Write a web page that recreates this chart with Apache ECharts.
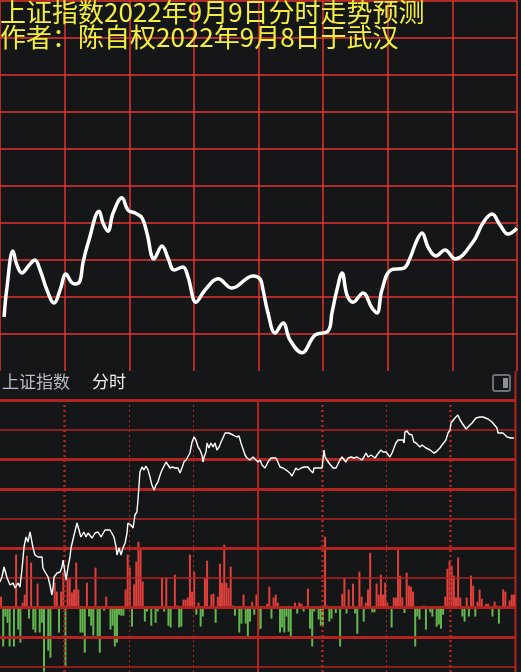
<!DOCTYPE html>
<html>
<head>
<meta charset="utf-8">
<script src="https://cdn.jsdelivr.net/npm/echarts@6/dist/echarts.min.js"></script>
<style>
html,body{margin:0;padding:0;background:#151618;}
#chart{width:521px;height:672px;}
</style>
</head>
<body>
<div id="chart"></div>
<script>
// ---- Upper panel: forecast line (minute of trading day, index level) ----
const upperMinutes = [1.9,3.2,6.0,7.9,10.2,13.5,16.2,18.6,21.8,25.1,27.9,30.6,33.0,34.8,37.1,38.5,41.3,46.0,47.8,50.1,52.5,56.6,59.4,62.7,65.9,68.2,71.5,75.2,78.0,80.8,84.9,87.3,91.0,95.2,101.2,107.7,117.4,120.7,122.1,124.4,127.7,131.4,134.6,140.2,146.2,152.3,154.1,156.4,158.8,161.1,163.9,168.5,172.7,175.0,177.3,181.5,187.5,190.3,193.6,195.9,198.7,202.4,206.6,211.2,219.6,224.2,228.4,232.1,235.8,240.0];
const upperLevels  = [3194.6,3202.4,3212.4,3208.6,3206.5,3208.6,3210.0,3207.3,3201.9,3198.4,3201.9,3206.2,3204.1,3203.5,3204.3,3209.2,3215.4,3223.2,3220.0,3217.8,3222.7,3226.8,3223.5,3222.7,3221.4,3217.3,3210.3,3213.8,3210.5,3207.3,3208.1,3205.4,3198.6,3201.9,3204.9,3202.4,3205.7,3204.9,3201.9,3195.7,3190.3,3193.0,3188.4,3184.9,3189.7,3190.8,3195.7,3201.9,3206.5,3200.5,3198.6,3201.1,3197.0,3195.7,3201.9,3207.3,3207.8,3210.5,3215.4,3217.3,3213.5,3211.1,3212.7,3210.3,3214.9,3220.0,3222.4,3219.5,3217.0,3218.6];

// ---- Lower panel: intraday price (minute, index) ----
const priceMinutes = [0,0.9,1.9,3.3,4.7,6.1,7.0,8.4,9.3,10.3,11.2,12.1,13.0,14.0,14.9,15.4,16.3,17.7,18.6,19.6,20.0,21.0,21.9,22.4,23.3,24.2,24.7,25.2,26.6,28.0,28.9,29.4,30.3,30.8,31.7,32.6,33.1,34.5,35.9,36.8,37.7,39.1,40.1,41.0,42.9,44.3,45.7,47.1,48.9,51.3,52.2,53.1,54.1,54.5,55.5,56.4,57.3,58.3,59.2,59.6,61.0,62.0,62.9,63.8,64.3,64.8,65.2,66.2,67.1,68.0,69.0,69.9,70.8,71.8,72.7,73.6,74.6,75.5,76.4,77.4,78.3,79.2,80.2,81.6,82.9,83.9,84.8,85.7,86.7,87.6,88.5,89.5,90.4,91.3,92.3,93.2,94.1,94.6,95.1,96.0,96.5,97.4,98.3,99.3,100.2,101.1,102.1,103.0,103.9,104.9,105.8,106.7,107.6,108.6,109.5,110.4,111.4,112.3,113.2,114.2,115.1,116.5,117.9,118.8,120.2,121.2,122.1,123.5,124.9,126.3,127.2,128.6,129.5,130.5,131.9,133.3,134.2,135.1,136.1,137.0,137.9,138.9,140.3,141.7,142.6,143.5,144.5,145.9,146.3,148.2,150.1,151.0,151.5,152.4,153.3,154.2,155.2,156.6,157.5,158.4,159.4,160.3,161.2,162.2,163.6,165.0,166.4,167.3,168.7,169.6,170.6,171.5,172.9,173.8,174.8,175.7,176.6,177.5,178.5,179.9,180.8,181.7,182.7,183.6,184.5,185.5,186.4,187.8,188.3,188.7,189.7,190.6,192.0,192.9,193.9,194.8,195.7,196.7,197.6,198.5,199.4,200.4,201.3,202.2,203.2,204.1,205.0,206.0,206.9,207.8,208.8,209.7,210.2,211.1,212.0,213.4,214.4,215.3,216.2,217.2,218.1,219.0,220.0,220.9,221.8,222.7,223.7,225.1,226.0,227.4,228.3,229.3,230.2,231.6,232.1,233.0,234.4,235.3,236.3,237.2,238.1,239.5];
const priceValues  = [3227.0,3228.0,3230.0,3227.8,3226.4,3226.8,3225.8,3226.8,3226.0,3229.8,3234.0,3236.0,3235.0,3237.0,3237.4,3233.8,3232.4,3232.0,3232.4,3232.0,3229.8,3229.0,3228.8,3228.0,3226.4,3224.4,3225.8,3228.0,3228.8,3229.0,3230.0,3231.4,3228.8,3227.4,3230.0,3232.0,3233.8,3236.4,3238.8,3238.4,3236.0,3237.0,3236.0,3236.8,3235.8,3236.8,3237.0,3236.0,3237.4,3237.4,3237.8,3236.0,3234.0,3232.4,3233.8,3232.4,3233.8,3234.8,3236.8,3238.8,3238.4,3237.8,3240.4,3241.0,3243.4,3246.4,3249.0,3250.0,3249.4,3250.2,3249.4,3248.0,3246.4,3245.4,3246.4,3247.0,3248.4,3249.4,3249.8,3251.0,3250.4,3249.8,3250.0,3249.8,3249.8,3248.8,3249.8,3251.0,3251.4,3251.4,3252.8,3255.0,3256.0,3255.4,3254.0,3253.4,3252.4,3251.0,3252.0,3253.0,3254.8,3253.8,3254.8,3254.0,3254.8,3253.4,3254.0,3255.0,3255.8,3256.8,3256.4,3256.8,3257.0,3256.4,3256.2,3256.0,3256.2,3254.8,3254.4,3252.4,3251.8,3251.4,3252.0,3251.8,3251.0,3251.4,3250.4,3249.8,3251.0,3251.8,3252.0,3251.8,3251.0,3250.0,3249.8,3249.4,3249.8,3248.8,3248.2,3248.0,3249.8,3249.4,3249.8,3250.0,3250.4,3250.0,3249.4,3248.8,3249.8,3249.8,3249.8,3253.4,3252.0,3251.4,3250.8,3250.4,3249.8,3249.8,3250.0,3251.4,3252.0,3251.8,3251.0,3251.8,3252.0,3251.8,3252.0,3251.8,3251.4,3252.0,3252.8,3252.0,3252.4,3252.0,3251.8,3252.4,3252.8,3253.4,3253.0,3253.0,3252.8,3252.0,3252.8,3253.8,3254.8,3255.4,3255.6,3255.4,3254.8,3257.0,3257.2,3256.6,3256.4,3255.0,3254.8,3254.8,3254.0,3254.4,3254.4,3253.8,3254.0,3253.4,3253.0,3252.8,3253.0,3253.4,3253.8,3254.4,3254.8,3255.4,3256.8,3257.4,3258.8,3259.0,3259.8,3260.4,3259.4,3258.8,3258.4,3257.6,3257.8,3258.4,3258.8,3259.0,3259.8,3260.0,3260.0,3260.0,3259.8,3259.6,3259.2,3259.0,3258.6,3257.8,3256.8,3256.6,3256.8,3256.4,3256.0,3255.6,3255.8,3255.8];

// ---- Lower panel: per-minute bars (positive = red, negative = green) ----
const barValues = [3.7,-13.1,-3.0,-5.1,-13.1,0,-13.1,17.9,-7.4,-11.8,1.7,4.4,17.5,-3.7,15.2,-7.4,-8.4,8.1,-8.4,-5.1,-21.6,0,-14.5,-16.9,0,8.4,5.4,-8.4,5.4,11.8,-19.9,10.1,10.1,5.1,6.1,15.2,6.1,-8.4,-8.4,-15.2,8.4,-3.0,-6.1,-9.4,13.5,-9.8,-15.2,0,-1.0,3.7,0,-7.4,-6.1,-13.1,-11.8,-2.4,-2.7,-2.7,6.1,17.9,13.5,-6.4,7.8,15.5,22.2,19.5,8.8,-4.7,-1.3,0,-6.1,0,-5.1,-1.3,0,10.1,-1.3,10.1,-6.1,-6.7,0,11.1,0.7,-6.7,-6.4,2.7,2.7,3.4,17.9,5.4,12.1,-2.4,1.7,-6.4,-3.0,10.1,15.8,0,4.4,4.7,-5.1,3.7,14.8,8.4,21.2,8.4,6.7,13.8,0.7,-2.7,0,-8.4,-5.4,4.4,-5.4,-9.8,-4.7,2.0,-2.4,4.4,-7.4,-7.1,0,0,1.3,7.1,-3.7,3.4,4.4,1.7,-8.4,-6.7,-8.4,-3.0,-8.1,-9.8,0,1.7,-2.0,1.7,1.3,-1.3,0,6.4,-7.1,-13.1,-1.3,0,-4.0,-6.1,-6.4,23.9,0.7,-4.7,-3.7,0,-1.8,0,-13.1,4.7,9.8,-2.0,6.1,0,8.1,-2.0,-8.8,12.1,3.7,-4.7,1.7,6.1,18.5,-1.6,-1.6,8.1,4.4,11.1,4.4,8.4,1.7,0,-6.7,3.4,3.4,19.5,10.8,3.4,-1.8,11.8,7.4,7.1,5.4,-13.1,-3.0,-4.0,0,0.7,-7.4,0,-1.6,-3.0,0,-6.4,-5.7,-7.1,-2.4,3.7,13.1,15.8,14.1,10.8,3.4,16.9,3.4,-3.0,-4.7,3.4,-3.0,10.8,7.4,-3.0,2.0,6.1,3.0,0,1.3,1.3,0,-3.0,2.0,0.7,-5.4,0,6.1,5.4,0,2.4,4.4,4.4];

const titleLine1 = '上证指数2022年9月9日分时走势预测';
const titleLine2 = '作者：陈自权2022年9月8日于武汉';
const panelName = '上证指数';
const panelMode = '分时';

// ---- build ----
const barMinutes = barValues.map((_, i) => String(i));
const upperData = upperMinutes.map((m, i) => [m, upperLevels[i]]);
const priceData = priceMinutes.map((m, i) => [m, priceValues[i]]);

const RED_UP = '#e2342e';
const RED_LO = '#b3231f';
const BAR_RED = '#e0403b';
const BAR_GREEN = '#62b84e';
const YELLOW = '#f3ef3a';
const CJK = '"Noto Sans CJK SC","Noto Sans",sans-serif';

const rowLines = [
  {v: 70, w: 3}, {v: 60, w: 1.5}, {v: 50, w: 3}, {v: 40, w: 3}, {v: 30, w: 1.5},
  {v: 20, w: 3}, {v: 10, w: 1.5}, {v: 0, w: 3}, {v: -10, w: 3}, {v: -20, w: 1.5}
];
const colLines = [
  {m: 30, w: 2.5, t: [2, 3]}, {m: 60, w: 1, t: [2, 3]}, {m: 90, w: 1, t: [2, 3]},
  {m: 120, w: 2, t: 'solid'}, {m: 150, w: 2.5, t: [2, 3]}, {m: 180, w: 1, t: [2, 3]},
  {m: 210, w: 2.5, t: [2, 3]}
];

const chart = echarts.init(document.getElementById('chart'), null, {renderer: 'canvas'});
const hidden = {axisLine: {show: false}, axisTick: {show: false}, axisLabel: {show: false}};
const upperSplitColors = ['rgba(0,0,0,0)'].concat(Array(10).fill(RED_UP));

chart.setOption({
  backgroundColor: '#151618',
  animation: false,
  title: [
    {text: titleLine1, left: 0, top: -1, padding: 0,
     textStyle: {color: YELLOW, fontSize: 26, fontWeight: 'normal', fontFamily: CJK}},
    {text: titleLine2, left: 0, top: 24, padding: 0,
     textStyle: {color: YELLOW, fontSize: 26, fontWeight: 'normal', fontFamily: CJK}},
    {text: panelName, left: 2, top: 373, padding: 0,
     textStyle: {color: '#b9bcc2', fontSize: 17, fontWeight: 'normal', fontFamily: CJK}},
    {text: panelMode, left: 92, top: 373, padding: 0,
     textStyle: {color: '#ececec', fontSize: 17, fontWeight: 'normal', fontFamily: CJK}}
  ],
  graphic: [
    {type: 'rect', shape: {x: 493, y: 375, width: 17, height: 16, r: 2},
     style: {fill: 'none', stroke: '#6c6f74', lineWidth: 2}, silent: true},
    {type: 'rect', shape: {x: 503, y: 378, width: 5, height: 10},
     style: {fill: '#8b8e93'}, silent: true},
    {type: 'line', shape: {x1: 515.5, y1: 371, x2: 515.5, y2: 672},
     style: {stroke: RED_LO, lineWidth: 2}, silent: true}
  ],
  grid: [
    {left: 0, top: 1, width: 517, height: 370},
    {left: 0, top: 400, width: 515, height: 272},
    {left: 0, top: 400, width: 515, height: 272}
  ],
  xAxis: [
    Object.assign({type: 'value', gridIndex: 0, min: 0, max: 240, interval: 30,
      splitLine: {show: true, lineStyle: {color: RED_UP, width: 1.5}}}, hidden),
    Object.assign({type: 'value', gridIndex: 1, min: 0, max: 240, splitLine: {show: false}}, hidden),
    Object.assign({type: 'category', gridIndex: 2, data: barMinutes, boundaryGap: true,
      splitLine: {show: false}}, hidden)
  ],
  yAxis: [
    Object.assign({type: 'value', gridIndex: 0, min: 3180, max: 3280, interval: 10,
      splitLine: {show: true, lineStyle: {color: upperSplitColors, width: 1.5}}}, hidden),
    Object.assign({type: 'value', gridIndex: 1, min: 3209, max: 3263.4, splitLine: {show: false}}, hidden),
    Object.assign({type: 'value', gridIndex: 2, min: -21.7, max: 70, splitLine: {show: false}}, hidden)
  ],
  series: [
    {
      type: 'bar', xAxisIndex: 2, yAxisIndex: 2, data: barValues, barWidth: 2,
      itemStyle: {color: p => (p.value >= 0 ? BAR_RED : BAR_GREEN)},
      z: 2, silent: true,
      markLine: {
        silent: true, symbol: ['none', 'none'], label: {show: false}, animation: false,
        data: rowLines.map(r => ({yAxis: r.v, lineStyle: {color: RED_LO, width: r.w, type: 'solid'}}))
      }
    },
    {
      type: 'line', xAxisIndex: 1, yAxisIndex: 1, data: priceData, symbol: 'none',
      lineStyle: {color: '#ffffff', width: 1.4}, z: 5, silent: true,
      markLine: {
        silent: true, symbol: ['none', 'none'], label: {show: false}, animation: false,
        data: colLines.map(c => ({xAxis: c.m, lineStyle: {color: RED_LO, width: c.w, type: c.t}}))
      }
    },
    {
      type: 'line', xAxisIndex: 0, yAxisIndex: 0, data: upperData, symbol: 'none',
      smooth: 0.4, lineStyle: {color: '#ffffff', width: 3.5}, z: 5, silent: true
    }
  ]
});
</script>
</body>
</html>
